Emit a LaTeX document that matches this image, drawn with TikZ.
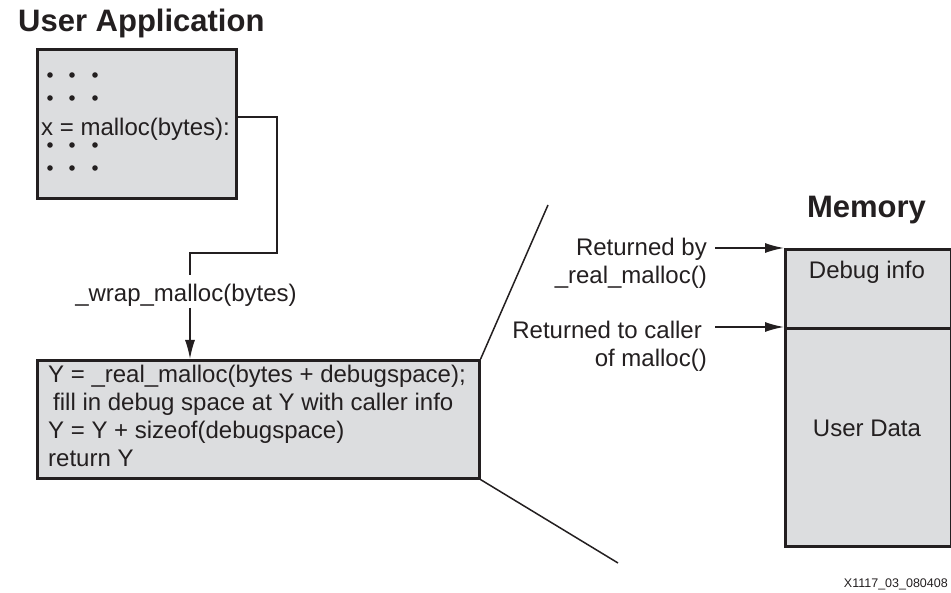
\documentclass[tikz,border=0pt]{standalone}
\usepackage{fontspec}
\setmainfont{Liberation Sans}
\usetikzlibrary{arrows.meta}
\definecolor{ink}{RGB}{35,31,32}
\definecolor{boxgray}{RGB}{220,221,223}
\tikzset{
  graybox/.style={draw=ink, fill=boxgray, line width=2.6pt, inner sep=0pt, anchor=north west},
  conn/.style={draw=ink, line width=1.5pt},
  arr/.style={draw=ink, line width=1.5pt, -{Latex[length=19pt,width=10pt]}},
  txt/.style={inner sep=0pt, text=ink, font=\fontsize{24}{28.5}\selectfont},
  ttl/.style={inner sep=0pt, text=ink, font=\fontsize{31}{36}\selectfont\bfseries},
  dotmark/.style={fill=ink}
}
\begin{document}
\begin{tikzpicture}[x=1pt,y=-1pt]
\useasboundingbox (0,0) rectangle (951,593);

% User application
\node[ttl, anchor=base west] (uatitle) at (18,32) {User Application};
\node[graybox, minimum width=199pt, minimum height=149pt] (app) at (36,48) {};
\foreach \yy in {75,98,145,168}{
  \foreach \xx in {50,72,95}{
    \fill[dotmark] (\xx,\yy) circle (2.8pt);
  }
}
\node[txt, anchor=base west] (call) at (41,136) {x = malloc(bytes):};

% wrapper label and connector
\node[txt, anchor=base] (wrap) at (186,302) {\_wrap\_malloc(bytes)};
\coordinate (c0) at (235,117);
\coordinate (c1) at (277,117);
\coordinate (c2) at (277,253);
\coordinate (c3) at (190,253);
\coordinate (c4) at (190,275);
\draw[conn] (c0) -- (c1) -- (c2) -- (c3) -- (c4);

% wrapper box
\node[graybox, minimum width=442pt, minimum height=118pt] (mal) at (36,359) {};
\coordinate (a0) at (190,308);
\draw[arr] (a0) -- (a0 |- mal.north);
\node[txt, anchor=base west] (l1) at (48,383) {Y = \_real\_malloc(bytes + debugspace);};
\node[txt, anchor=base west] (l2) at (53,411) {fill in debug space at Y with caller info};
\node[txt, anchor=base west] (l3) at (48,439) {Y = Y + sizeof(debugspace)};
\node[txt, anchor=base west] (l4) at (48,467) {return Y};

% zoom lines
\coordinate (z1) at (548,205);
\coordinate (z2) at (618,563);
\draw[conn] (mal.north east) -- (z1);
\draw[conn] (mal.south east) -- (z2);

% Memory
\node[ttl, anchor=base] (memtitle) at (866.5,218) {Memory};
\node[graybox, minimum width=166pt, minimum height=79pt] (dbg) at (784,248) {};
\node[graybox, minimum width=166pt, minimum height=218pt] (usr) at (784,327) {};
\node[txt, anchor=base] (dbgt) at (867,279) {Debug info};
\node[txt, anchor=base] (usrt) at (867,437) {User Data};

\node[txt, anchor=base east] (rb1) at (707,256) {Returned by};
\node[txt, anchor=base east] (rb2) at (707,284) {\_real\_malloc()};
\node[txt, anchor=base east] (rc1) at (702,339) {Returned to caller};
\node[txt, anchor=base east] (rc2) at (707,367) {of malloc()};
\draw[arr] (715,248) -- (dbg.north west);
\draw[arr] (715,327) -- (usr.north west);

\node[inner sep=0pt, text=ink, font=\fontsize{12.5}{14}\selectfont, anchor=base east] (fig) at (948,587) {X1117\_03\_080408};
\end{tikzpicture}
\end{document}
